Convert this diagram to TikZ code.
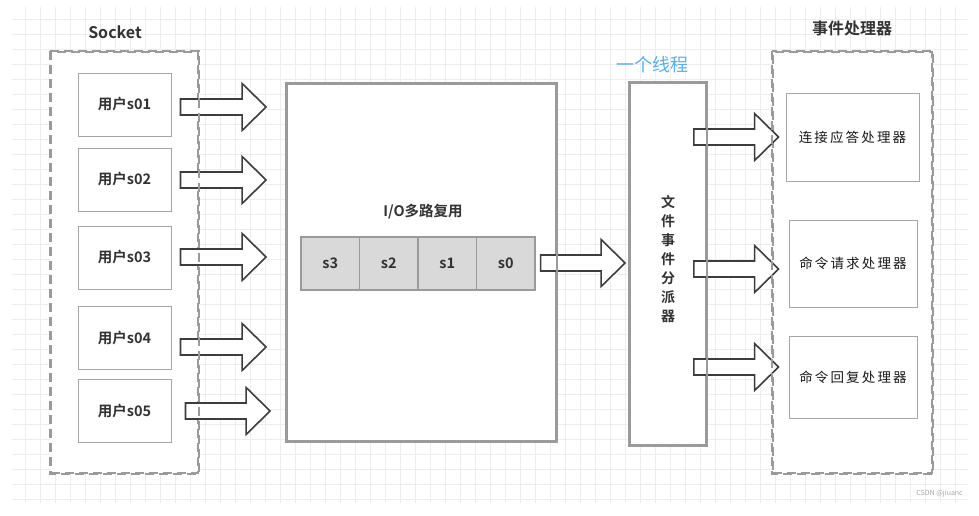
\documentclass[tikz,border=0pt]{standalone}
\usepackage{fontspec}
\setmainfont{Noto Sans CJK SC}[BoldFont={Noto Sans CJK SC Bold}]
\newfontfamily\spaced{Noto Sans CJK SC}[LetterSpace=16]
\usetikzlibrary{calc}
\definecolor{gridc}{HTML}{EDEDED}
\definecolor{boxc}{HTML}{A6A6A6}
\definecolor{bigc}{HTML}{9A9A9A}
\definecolor{arrc}{HTML}{3C3C3C}
\definecolor{txtc}{HTML}{333333}
\definecolor{cellc}{HTML}{D9D9D9}
\definecolor{bluec}{HTML}{5AAEF2}
\tikzset{
  ubox/.style={draw=boxc, line width=0.9pt, fill=white, minimum width=93pt, minimum height=63pt, inner sep=0pt, text=txtc, font=\bfseries\fontsize{14.5}{16}\selectfont},
  bigbox/.style={draw=bigc, line width=1.8pt, fill=white, inner sep=0pt},
  framebox/.style={draw=bigc, line width=1.8pt, dash pattern=on 9pt off 5pt, fill=white, inner sep=0pt},
  cell/.style={draw=bigc, line width=1.2pt, fill=cellc, minimum width=58.5pt, minimum height=53pt, inner sep=0pt, text=txtc, font=\bfseries\fontsize{14.5}{16}\selectfont},
  hbox/.style={draw=boxc, line width=0.9pt, fill=white, inner sep=0pt, text=black!90, font=\spaced\fontsize{13.5}{15}\selectfont},
  blockarr/.style={draw=arrc, fill=white, line width=1.6pt, line join=miter},
  title/.style={text=txtc, font=\bfseries\fontsize{16}{18}\selectfont, inner sep=0pt}
}
\newcommand\blockarrow[2]{%
  \draw[blockarr] let \p1=(#1), \p2=(#2) in
    (\x1,\y1+8pt) -- (\x2-24pt,\y1+8pt) -- (\x2-24pt,\y1+23.5pt) -- (\x2,\y1)
    -- (\x2-24pt,\y1-23.5pt) -- (\x2-24pt,\y1-8pt) -- (\x1,\y1-8pt) -- cycle;}
\begin{document}
\begin{tikzpicture}[x=1pt,y=-1pt]
\useasboundingbox (0,0) rectangle (979,516);
\fill[white] (0,0) rectangle (979,516);
% grid
\foreach \gx in {25,40,...,965} \draw[gridc, line width=0.9pt] (\gx,7) -- (\gx,503);
\foreach \gy in {19,34,...,499} \draw[gridc, line width=0.9pt] (12,\gy) -- (968,\gy);
% frames
\node[framebox, minimum width=147pt, minimum height=421pt] (sock) at (124.5,262.5) {};
\node[framebox, minimum width=159pt, minimum height=421pt] (hand) at (852.5,262.5) {};
\node[title] (socklbl) at (115,32) {Socket};
\node[title] (handlbl) at (852,28) {事件处理器};
% user boxes
\node[ubox] (u1) at (124.5,104.5) {用户s01};
\node[ubox] (u2) at (124.5,179.5) {用户s02};
\node[ubox] (u3) at (124.5,257.5) {用户s03};
\node[ubox] (u4) at (124.5,338) {用户s04};
\node[ubox] (u5) at (124.5,411) {用户s05};
% I/O box
\node[bigbox, minimum width=269pt, minimum height=357pt] (io) at (421.5,262.5) {};
\node[text=txtc, font=\bfseries\fontsize{14.5}{16}\selectfont, inner sep=0pt] (iolbl) at (423,212) {I/O多路复用};
\node[cell] (c3) at (330.25,263.5) {s3};
\node[cell] (c2) at (388.75,263.5) {s2};
\node[cell] (c1) at (447.25,263.5) {s1};
\node[cell] (c0) at (505.75,263.5) {s0};
% dispatcher
\node[bigbox, minimum width=76pt, minimum height=362pt] (disp) at (668,264) {};
\node[text=txtc, font=\bfseries\fontsize{14}{19}\selectfont, align=center, inner sep=0pt] (displbl) at (668,259) {文\\件\\事\\件\\分\\派\\器};
\node[text=bluec, font=\fontsize{18}{20}\selectfont, inner sep=0pt] (thr) at (652,65) {一个线程};
% handlers
\node[hbox, minimum width=133pt, minimum height=88pt] (h1) at (852.5,137) {连接应答处理器};
\node[hbox, minimum width=128pt, minimum height=87pt] (h2) at (853,263.5) {命令请求处理器};
\node[hbox, minimum width=128pt, minimum height=82pt] (h3) at (853,377) {命令回复处理器};
% arrow end points
\coordinate (a1s) at ($(u1.east)+(9,2.5)$);  \coordinate (a1t) at ($(io.west |- a1s)+(-20,0)$);
\coordinate (a2s) at ($(u2.east)+(9,0.5)$);  \coordinate (a2t) at ($(io.west |- a2s)+(-20,0)$);
\coordinate (a3s) at ($(u3.east)+(9,-0.5)$); \coordinate (a3t) at ($(io.west |- a3s)+(-20,0)$);
\coordinate (a4s) at ($(u4.east)+(9,9)$);    \coordinate (a4t) at ($(io.west |- a4s)+(-20,0)$);
\coordinate (a5s) at ($(u5.east)+(14,0)$);   \coordinate (a5t) at ($(io.west |- a5s)+(-16,0)$);
\coordinate (a6s) at ($(c0.east)+(5,-0.5)$); \coordinate (a6t) at ($(disp.west |- a6s)+(-4,0)$);
\coordinate (a7s) at ($(disp.east |- h1.west)+(-13,0)$); \coordinate (a7t) at ($(h1.west)+(-7,0)$);
\coordinate (a8s) at ($(disp.east |- h2.west)+(-13,5.5)$); \coordinate (a8t) at ($(h2.west |- a8s)+(-10,0)$);
\coordinate (a9s) at ($(disp.east |- h3.west)+(-13,-10)$); \coordinate (a9t) at ($(h3.west |- a9s)+(-10,0)$);
\blockarrow{a1s}{a1t}
\blockarrow{a2s}{a2t}
\blockarrow{a3s}{a3t}
\blockarrow{a4s}{a4t}
\blockarrow{a5s}{a5t}
\blockarrow{a6s}{a6t}
\blockarrow{a7s}{a7t}
\blockarrow{a8s}{a8t}
\blockarrow{a9s}{a9t}
% borders redrawn over arrows
\draw[bigc, line width=1.8pt, dash pattern=on 9pt off 5pt] (sock.north west) rectangle (sock.south east);
\draw[bigc, line width=1.8pt, dash pattern=on 9pt off 5pt] (hand.north west) rectangle (hand.south east);
\draw[bigc, line width=1.8pt] (io.north west) rectangle (io.south east);
\draw[bigc, line width=1.8pt] (disp.north west) rectangle (disp.south east);
% watermark
\node[text=black!35, font=\fontsize{7}{8}\selectfont, inner sep=0pt, anchor=east] (wm) at (963,494) {CSDN @jiuanc};
\end{tikzpicture}
\end{document}
